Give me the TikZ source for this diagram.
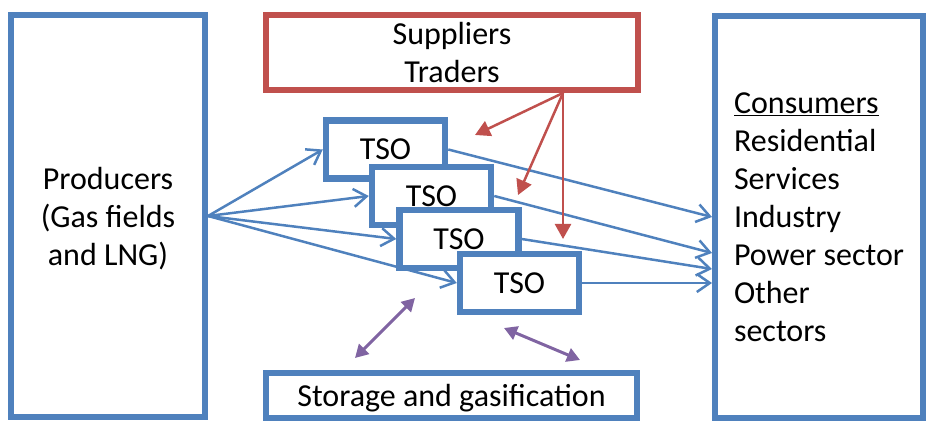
\documentclass[tikz,border=0pt]{standalone}
\usepackage{fontspec}
\setmainfont{Carlito}
\usetikzlibrary{arrows.meta}
\definecolor{boxblue}{RGB}{79,129,189}
\definecolor{boxred}{RGB}{192,80,77}
\definecolor{flowpurple}{RGB}{128,100,162}
\tikzset{
	bigbox/.style={draw=boxblue, line width=6pt, rectangle, align=center, font=\fontsize{32}{38}\selectfont},
	tsobox/.style={draw=boxblue, line width=6.5pt, fill=white, minimum width=119pt, minimum height=58pt, font=\fontsize{32}{38}\selectfont},
	gasflow/.style={draw=boxblue, line width=2.5pt, -{Straight Barb[length=13pt,width=18pt]}},
	tradeflow/.style={draw=boxred, line width=2.5pt, -{Triangle[length=15pt,width=16pt]}},
	storeflow/.style={draw=flowpurple, line width=3pt, {Triangle[length=13pt,width=14pt]}-{Triangle[length=13pt,width=14pt]}}
}

\begin{document}
\begin{tikzpicture}[x=1pt, y=-1pt]
			%%%%% START %%%%%
			\useasboundingbox (0, 0) rectangle (936, 430);
			
			\node[bigbox, minimum width=194pt, minimum height=402pt, text depth=0pt] (producers) at (108, 216) {Producers\\(Gas fields\\and LNG)};
			\node[bigbox, minimum width=208pt, minimum height=402pt, align=left] (consumers) at (819, 217) {\underline{Consumers}\\Residential\\Services\\Industry\\Power sector\\Other\\sectors};
			\node[bigbox, draw=boxred, minimum width=372pt, minimum height=75pt] (suppliers) at (452, 52.5) {Suppliers\\Traders};
			\node[bigbox, minimum width=371pt, minimum height=45pt, text depth=0pt] (storage) at (451.5, 395.5) {Storage and gasification};
			
			\node[tsobox] (tso1) at (385.5, 149.5) {TSO};
			\node[tsobox] (tso2) at (431.5, 196) {TSO};
			\node[tsobox] (tso3) at (459, 239) {TSO};
			\node[tsobox] (tso4) at (519.5, 283) {TSO};
			
			\draw[gasflow] (producers.east) -- (tso1.west);
			\draw[gasflow] (producers.east) -- (tso2.west);
			\draw[gasflow] (producers.east) -- (tso3.west);
			\draw[gasflow] (producers.east) -- (tso4.west);
			
			\draw[gasflow] (tso1.east) -- (consumers.west);
			\draw[gasflow] (tso2.east) -- ([yshift=-36pt]consumers.west);
			\draw[gasflow] (tso3.east) -- ([yshift=-52pt]consumers.west);
			\draw[gasflow] (tso4.east) -- (tso4.east -| consumers.west);
			
			\coordinate (deal) at ([xshift=111pt]suppliers.south);
			\coordinate (deal1) at (475, 135);
			\coordinate (deal2) at (518, 195);
			\coordinate (deal3) at (563, 239);
			\draw[tradeflow] (deal) -- (deal1);
			\draw[tradeflow] (deal) -- (deal2);
			\draw[tradeflow] (deal) -- (deal3);
			
			\coordinate (inject1) at (355, 358);
			\coordinate (inject2) at (415, 298);
			\coordinate (withdraw1) at (504, 328);
			\coordinate (withdraw2) at (580, 360);
			\draw[storeflow] (inject1) -- (inject2);
			\draw[storeflow] (withdraw1) -- (withdraw2);
			
			%%%%% END %%%%%
\end{tikzpicture}
\end{document}
